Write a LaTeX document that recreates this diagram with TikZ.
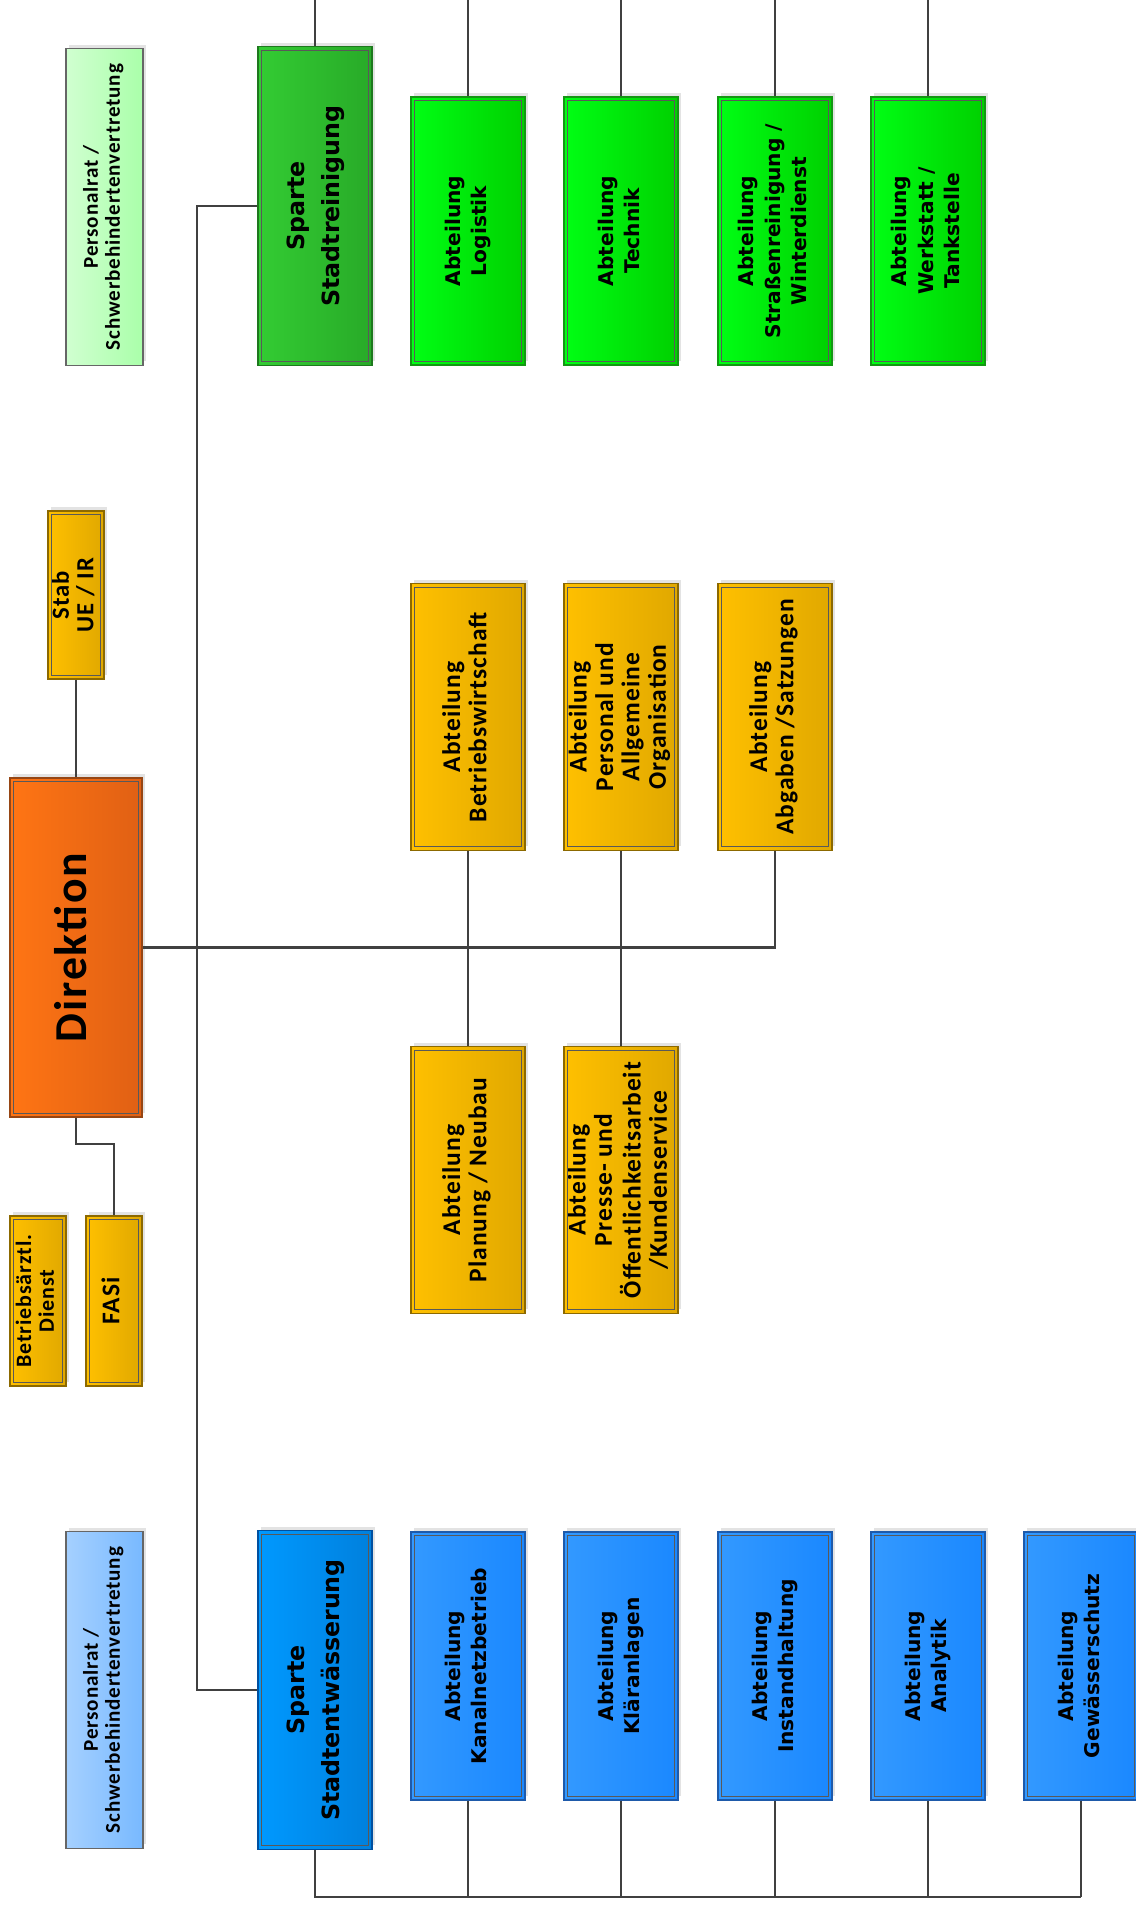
\documentclass[tikz,border=0pt]{standalone}
\usepackage{fontspec}
\usepackage{graphicx}
\usetikzlibrary{shadows}
\newfontfamily\calfont[LetterSpace=4]{Carlito}
\newfontfamily\verfont{DejaVu Sans}

\definecolor{goldL}{RGB}{255,192,0}
\definecolor{goldR}{RGB}{224,168,0}
\definecolor{goldD}{RGB}{140,105,0}
\definecolor{dirL}{RGB}{255,117,20}
\definecolor{dirR}{RGB}{224,96,20}
\definecolor{dirD}{RGB}{150,70,20}
\definecolor{limeL}{RGB}{0,255,20}
\definecolor{limeR}{RGB}{0,208,0}
\definecolor{limeD}{RGB}{20,150,20}
\definecolor{srL}{RGB}{51,204,51}
\definecolor{srR}{RGB}{40,170,40}
\definecolor{srD}{RGB}{30,120,30}
\definecolor{prgL}{RGB}{208,255,208}
\definecolor{prgR}{RGB}{170,255,170}
\definecolor{blueL}{RGB}{51,153,255}
\definecolor{blueR}{RGB}{26,136,255}
\definecolor{blueD}{RGB}{30,90,170}
\definecolor{seL}{RGB}{0,153,255}
\definecolor{seR}{RGB}{0,128,221}
\definecolor{seD}{RGB}{0,80,160}
\definecolor{prbL}{RGB}{165,208,255}
\definecolor{prbR}{RGB}{120,185,255}
\definecolor{linegray}{RGB}{64,64,64}

\newcommand{\vtext}[1]{\rotatebox{90}{\begin{tabular}{@{}c@{}}#1\end{tabular}}}

\tikzset{
  link/.style={draw=linegray, line width=1.1pt},
  bus/.style={draw=linegray, line width=1.6pt},
  innen/.style={draw=black!65, line width=0.5pt},
  schatten/.style={drop shadow={shadow xshift=0.06cm, shadow yshift=0.08cm, fill=black!11, opacity=1}},
  kasten/.style={draw=#1, line width=0.8pt, inner sep=0pt, schatten},
  gelb/.style={kasten=goldD, left color=goldL, right color=goldR,
    minimum width=2.28cm, minimum height=5.34cm,
    font=\calfont\bfseries\fontsize{14.5}{15}\selectfont},
  klein/.style={minimum width=1.12cm, minimum height=3.4cm},
  abt/.style={minimum width=2.28cm, minimum height=5.36cm,
    font=\verfont\bfseries\fontsize{11.5}{15}\selectfont},
  gruen/.style={abt, kasten=limeD, left color=limeL, right color=limeR},
  blau/.style={abt, kasten=blueD, left color=blueL, right color=blueR},
  sparte/.style={minimum width=2.28cm, minimum height=6.38cm,
    font=\verfont\bfseries\fontsize{13.5}{20}\selectfont},
  prat/.style={draw=black!60, line width=0.6pt, inner sep=0pt, schatten,
    minimum width=1.54cm, minimum height=6.34cm,
    font=\calfont\bfseries\fontsize{12}{12.4}\selectfont},
}

\begin{document}
\begin{tikzpicture}[x=0.02cm, y=-0.02cm]
\useasboundingbox (0,0) rectangle (1136,1908);
\fill[white] (0,0) rectangle (1136,1908);
\clip (0,0) rectangle (1136,1908);

% Sparte Stadtreinigung
\node[prat, left color=prgL, right color=prgR] (prg) at (104.5,207) {\vtext{Personalrat /\\Schwerbehindertenvertretung}};
\node[sparte, kasten=srD, left color=srL, right color=srR] (sr) at (315,206) {\vtext{Sparte\\Stadtreinigung}};
\node[gruen] (log) at (468,231) {\vtext{Abteilung\\Logistik}};
\node[gruen] (tec) at (621,231) {\vtext{Abteilung\\Technik}};
\node[gruen] (str) at (775,231) {\vtext{Abteilung\\Straßenreinigung /\\Winterdienst}};
\node[gruen] (wer) at (928,231) {\vtext{Abteilung\\Werkstatt /\\Tankstelle}};

% Direktion
\node[gelb, klein, minimum height=3.36cm, font=\calfont\bfseries\fontsize{14}{13.5}\selectfont] (stab) at (76,595) {\vtext{Stab\\UE / IR}};
\node[kasten=dirD, left color=dirL, right color=dirR, minimum width=2.64cm, minimum height=6.78cm,
  font=\calfont\bfseries\fontsize{26}{30}\selectfont] (dir) at (76,947.5) {\vtext{Direktion}};
\node[gelb, klein, font=\calfont\bfseries\fontsize{12.5}{13}\selectfont] (bad) at (38,1301) {\vtext{Betriebsärztl.\\Dienst}};
\node[gelb, klein, font=\calfont\bfseries\fontsize{14.5}{15}\selectfont] (fasi) at (114,1301) {\vtext{FASi}};

\node[gelb] (bw) at (468,717) {\vtext{Abteilung\\Betriebswirtschaft}};
\node[gelb] (pers) at (621,717) {\vtext{Abteilung\\Personal und\\Allgemeine\\Organisation}};
\node[gelb] (abg) at (775,717) {\vtext{Abteilung\\Abgaben /Satzungen}};
\node[gelb] (plan) at (468,1180) {\vtext{Abteilung\\Planung / Neubau}};
\node[gelb] (presse) at (621,1180) {\vtext{Abteilung\\Presse- und\\Öffentlichkeitsarbeit\\/Kundenservice}};

% Sparte Stadtentwaesserung
\node[prat, left color=prbL, right color=prbR] (prb) at (104.5,1690) {\vtext{Personalrat /\\Schwerbehindertenvertretung}};
\node[sparte, kasten=seD, left color=seL, right color=seR] (se) at (315,1690) {\vtext{Sparte\\Stadtentwässerung}};
\node[blau] (kan) at (468,1666) {\vtext{Abteilung\\Kanalnetzbetrieb}};
\node[blau] (kla) at (621,1666) {\vtext{Abteilung\\Kläranlagen}};
\node[blau] (ins) at (775,1666) {\vtext{Abteilung\\Instandhaltung}};
\node[blau] (ana) at (928,1666) {\vtext{Abteilung\\Analytik}};
\node[blau] (gew) at (1081,1666) {\vtext{Abteilung\\Gewässerschutz}};

% innere Rahmen
\foreach \n in {sr,log,tec,str,wer,stab,dir,bad,fasi,bw,pers,abg,plan,presse,se,kan,kla,ins,ana,gew}
  \draw[innen] ([shift={(0.09cm,-0.09cm)}]\n.north west) rectangle ([shift={(-0.09cm,0.09cm)}]\n.south east);

% Linien
\coordinate (oben) at (0,-10);
\coordinate (unten) at (0,1897);
\draw[link] (stab.south) -- (dir.north);
\draw[link] (dir.south) -- ++(0,26) -| (fasi.north);
\draw[bus] (dir.east) -| (abg.south);
\draw[link] (bw.south) -- (plan.north);
\draw[link] (pers.south) -- (presse.north);
\draw[link] (sr.west) -- ++(-60,0) |- (se.west);
\foreach \n in {sr,log,tec,str,wer}
  \draw[link] (\n.north) -- (\n.north |- oben);
\draw[bus] (se.south) |- (ana.south |- unten);
\draw[link] (ana.south |- unten) -- (gew.south |- unten);
\foreach \n in {kan,kla,ins,ana,gew}
  \draw[link] (\n.south) -- (\n.south |- unten);
\end{tikzpicture}
\end{document}
